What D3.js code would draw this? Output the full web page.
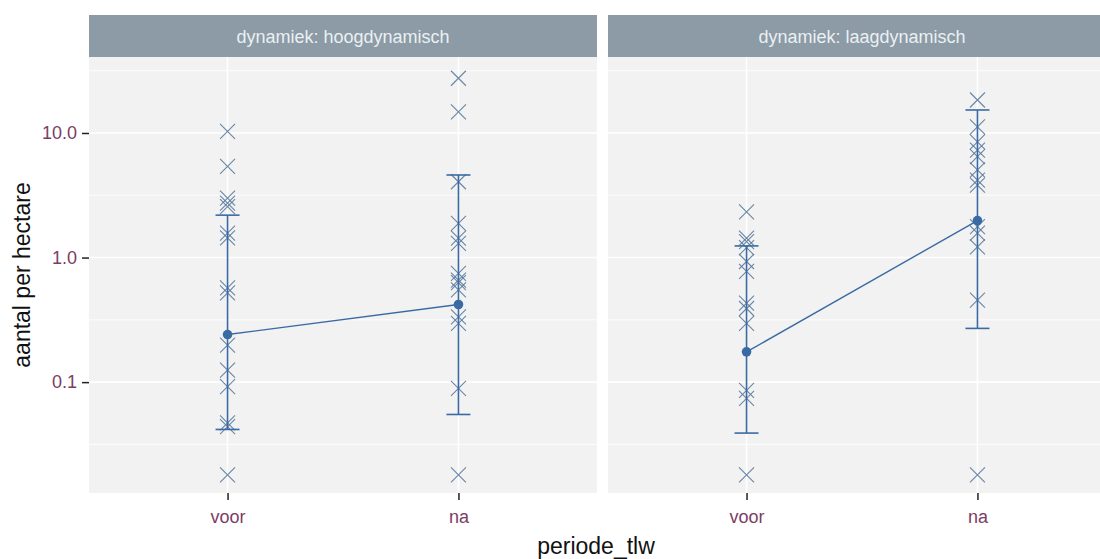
<!DOCTYPE html>
<html><head><meta charset="utf-8">
<script src="https://cdn.jsdelivr.net/npm/d3@7"></script>
<style>body{margin:0;background:#fff}svg{display:block}text{font-family:"Liberation Sans",Arial,sans-serif}</style>
</head><body>
<svg id="c" width="1100" height="559"></svg>
<script>
const panels = ["dynamiek: hoogdynamisch", "dynamiek: laagdynamisch"];
const periods = ["voor", "na"];
const yTicks = [0.1, 1, 10];
const yTickLabels = ["0.1", "1.0", "10.0"];
// observations per panel/period
const hoogVoor = [10.3, 5.4, 3.0, 2.74, 2.56, 1.57, 1.44, 0.57, 0.52, 0.198, 0.125, 0.092, 0.047, 0.044, 0.018];
const hoogNa = [27.5, 14.8, 4.06, 1.88, 1.43, 1.30, 0.746, 0.66, 0.63, 0.55, 0.334, 0.296, 0.089, 0.018];
const laagVoor = [2.33, 1.43, 1.34, 1.2, 0.93, 0.776, 0.43, 0.39, 0.296, 0.086, 0.074, 0.018];
const laagNa = [18.4, 11.2, 8.5, 7.3, 6.45, 5.05, 4.19, 3.82, 1.77, 1.57, 1.22, 0.456, 0.018];
// summary: mean, lower, upper
const hoogMean = [0.241, 0.42], hoogLow = [0.0417, 0.055], hoogHigh = [2.19, 4.6];
const laagMean = [0.175, 1.98], laagLow = [0.039, 0.27], laagHigh = [1.24, 15.3];

const obs = [[hoogVoor, hoogNa], [laagVoor, laagNa]];
const means = [hoogMean, laagMean], lows = [hoogLow, laagLow], highs = [hoogHigh, laagHigh];

const svg = d3.select("#c");
const panelW = 508, panelTop = 57, panelBottom = 493, stripTop = 15;
const panelX = [89, 608];
const y = d3.scaleLog().domain([Math.pow(10, -1.89), Math.pow(10, 1.61)]).range([panelBottom, panelTop]);
const minorY = [Math.pow(10, -1.5), Math.pow(10, -0.5), Math.pow(10, 0.5), Math.pow(10, 1.5)];
const lineCol = "#3a6aa3", xCol = "#5a7a9e", tickCol = "#7b3d63";

panels.forEach((p, i) => {
  const g = svg.append("g").attr("transform", `translate(${panelX[i]},0)`);
  const x = d3.scalePoint().domain(periods).range([0, panelW]).padding(0.6);
  g.append("rect").attr("x", 0).attr("y", panelTop).attr("width", panelW).attr("height", panelBottom - panelTop).attr("fill", "#f2f2f2");
  g.append("rect").attr("x", 0).attr("y", stripTop).attr("width", panelW).attr("height", panelTop - stripTop).attr("fill", "#8c9ba6");
  g.append("text").attr("x", panelW / 2).attr("y", 37).attr("text-anchor", "middle").attr("dominant-baseline", "central")
    .attr("font-size", 18).attr("fill", "#eaf0f2").text(p);
  minorY.forEach(v => g.append("line").attr("x1", 0).attr("x2", panelW).attr("y1", y(v)).attr("y2", y(v)).attr("stroke", "#fff").attr("stroke-width", 0.8));
  yTicks.forEach(v => g.append("line").attr("x1", 0).attr("x2", panelW).attr("y1", y(v)).attr("y2", y(v)).attr("stroke", "#fff").attr("stroke-width", 1.6));
  periods.forEach(pr => g.append("line").attr("x1", x(pr)).attr("x2", x(pr)).attr("y1", panelTop).attr("y2", panelBottom).attr("stroke", "#fff").attr("stroke-width", 1.6));
  // x axis
  const xa = g.append("g").attr("transform", `translate(0,${panelBottom})`)
    .call(d3.axisBottom(x).tickSize(7).tickPadding(10));
  xa.select(".domain").remove();
  xa.selectAll("line").attr("stroke", "#222").attr("stroke-width", 1.5);
  xa.selectAll("text").attr("font-size", 18).attr("fill", tickCol).attr("font-family", "Liberation Sans, Arial, sans-serif");
  // observations
  periods.forEach((pr, k) => {
    const cx = x(pr), s = 7.5;
    obs[i][k].forEach(v => {
      const cy = y(v);
      g.append("path").attr("d", `M${cx - s},${cy - s}L${cx + s},${cy + s}M${cx - s},${cy + s}L${cx + s},${cy - s}`)
        .attr("stroke", xCol).attr("stroke-width", 1.1).attr("fill", "none").attr("opacity", 0.9);
    });
  });
  // errorbars
  periods.forEach((pr, k) => {
    const cx = x(pr);
    g.append("line").attr("x1", cx).attr("x2", cx).attr("y1", y(lows[i][k])).attr("y2", y(highs[i][k])).attr("stroke", lineCol).attr("stroke-width", 1.6);
    [lows[i][k], highs[i][k]].forEach(v => g.append("line").attr("x1", cx - 12).attr("x2", cx + 12).attr("y1", y(v)).attr("y2", y(v)).attr("stroke", lineCol).attr("stroke-width", 1.6));
  });
  const line = d3.line().x((d, k) => x(periods[k])).y(d => y(d));
  g.append("path").attr("d", line(means[i])).attr("fill", "none").attr("stroke", lineCol).attr("stroke-width", 1.4);
  means[i].forEach((v, k) => g.append("circle").attr("cx", x(periods[k])).attr("cy", y(v)).attr("r", 4.8).attr("fill", lineCol));
});

// y axis
const ya = svg.append("g").attr("transform", `translate(${panelX[0]},0)`)
  .call(d3.axisLeft(y).tickValues(yTicks).tickFormat((d, i) => yTickLabels[i]).tickSize(7).tickPadding(5));
ya.select(".domain").remove();
ya.selectAll("line").attr("stroke", "#222").attr("stroke-width", 1.5);
ya.selectAll("text").attr("font-size", 18).attr("fill", tickCol).attr("font-family", "Liberation Sans, Arial, sans-serif");

svg.append("text").attr("transform", "translate(30,275) rotate(-90)").attr("text-anchor", "middle")
  .attr("font-size", 23).attr("fill", "#111").text("aantal per hectare");
svg.append("text").attr("x", 596).attr("y", 554).attr("text-anchor", "middle")
  .attr("font-size", 23).attr("fill", "#111").text("periode_tlw");
</script>
</body></html>
